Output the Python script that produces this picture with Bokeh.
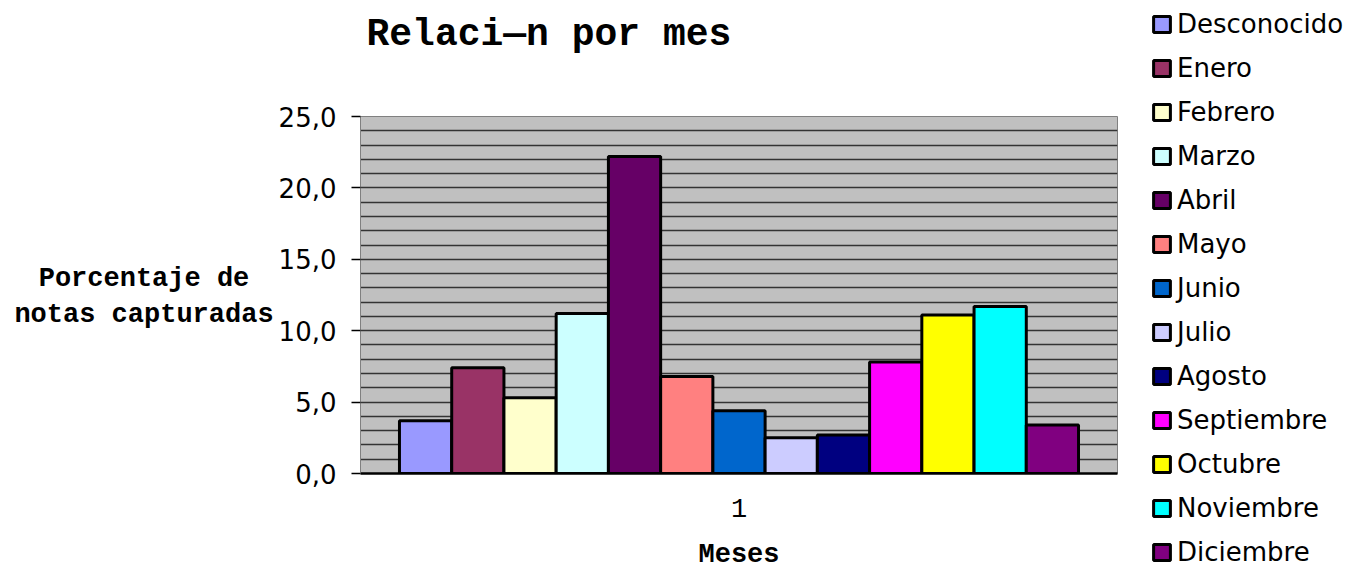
from bokeh.plotting import figure
from bokeh.layouts import row, column
from bokeh.models import (ColumnDataSource, Range1d, FixedTicker, SingleIntervalTicker,
                          Legend, LegendItem)
from bokeh.core.properties import value
from bokeh.embed import file_html
from bokeh.resources import INLINE

# ---- data ----
months = ["Desconocido", "Enero", "Febrero", "Marzo", "Abril", "Mayo", "Junio",
          "Julio", "Agosto", "Septiembre", "Octubre", "Noviembre", "Diciembre"]
values = [3.7, 7.4, 5.3, 11.2, 22.2, 6.8, 4.4, 2.5, 2.7, 7.8, 11.1, 11.7, 3.4]
colors = ["#9999FF", "#993366", "#FFFFCC", "#CCFFFF", "#660066", "#FF8080", "#0066CC",
          "#CCCCFF", "#000080", "#FF00FF", "#FFFF00", "#00FFFF", "#800080"]
x_tick_labels = ["1"]
y_tick_values = [0, 5, 10, 15, 20, 25]
y_tick_labels = ["0,0", "5,0", "10,0", "15,0", "20,0", "25,0"]
title_text = "Relaci\u2014n por mes"
y_title = "Porcentaje de\nnotas capturadas"
x_title = "Meses"

n = len(months)
pos = list(range(n))
src = ColumnDataSource(dict(x=pos, top=values, color=colors, month=months))

# ---- layout sizes ----
LEFT_W, MID_W, LEG_W = 275, 845, 232
TOP_H, BOT_H, H = 70, 40, 570
MAIN_H = H - TOP_H - BOT_H
FRAME_L, FRAME_R = 359, 1117   # page x of the plot area (frames in the column align)


def blank(w, h, x0=0, x1=None):
    f = figure(width=w, height=h, x_range=Range1d(x0, w if x1 is None else x1),
               y_range=Range1d(h, 0), output_backend="svg", toolbar_location=None,
               min_border=0, x_axis_type=None, y_axis_type=None)
    f.outline_line_color = None
    f.background_fill_color = "white"
    f.border_fill_color = "white"
    return f


def mono_text(f, x, y, txt, size, align):
    f.text(x=[x], y=[y], text=[txt], text_font=value("Liberation Mono"),
           text_font_style="bold", text_font_size=size, text_color="black",
           text_align=align, text_baseline="middle", text_line_height=1.2)


# ---- main chart ----
side = 0.746
p = figure(width=MID_W, height=MAIN_H, output_backend="svg", toolbar_location=None,
           x_range=Range1d(-0.5 - side, n - 0.5 + side), y_range=Range1d(0, 25),
           min_border_left=FRAME_L - LEFT_W, min_border_right=3,
           min_border_top=116 - TOP_H,
           min_border_bottom=MAIN_H - (116 - TOP_H) - 357)
p.background_fill_color = "#C0C0C0"
p.border_fill_color = "white"
p.outline_line_color = "#808080"
p.outline_line_width = 1

r = p.vbar(x="x", top="top", width=1.0, bottom=0, source=src,
           fill_color="color", line_color="black", line_width=3)

p.xgrid.visible = False
p.ygrid.ticker = SingleIntervalTicker(interval=1)
p.ygrid.grid_line_color = "#333333"
p.ygrid.grid_line_width = 1.5

ya = p.yaxis[0]
ya.ticker = FixedTicker(ticks=y_tick_values)
ya.major_label_overrides = {v: t for v, t in zip(y_tick_values, y_tick_labels)}
ya.major_label_text_font = "DejaVu Sans"
ya.major_label_text_font_size = "26px"
ya.major_label_text_color = "black"
ya.major_tick_out = 9
ya.major_tick_in = 0
ya.minor_tick_out = 0
ya.minor_tick_in = 0
ya.major_tick_line_color = "black"
ya.major_tick_line_width = 1.5
ya.axis_line_color = "#808080"
ya.major_label_standoff = 15

xa = p.xaxis[0]
center = (n - 1) / 2
xa.ticker = FixedTicker(ticks=[center])
xa.major_label_overrides = {center: x_tick_labels[0]}
xa.major_label_text_font = "Liberation Mono"
xa.major_label_text_font_size = "27px"
xa.major_label_text_color = "black"
xa.major_tick_out = 0
xa.major_tick_in = 0
xa.minor_tick_out = 0
xa.minor_tick_in = 0
xa.axis_line_color = "black"
xa.axis_line_width = 2.5
xa.major_label_standoff = 25

# ---- text panels ----
left_fig = blank(LEFT_W, H)
mono_text(left_fig, 143.5, 296, y_title, "27px", "center")

top_fig = blank(MID_W, TOP_H, FRAME_L, FRAME_R)
mono_text(top_fig, 365, 34, title_text, "38px", "left")

bot_fig = blank(MID_W, BOT_H, FRAME_L, FRAME_R)
mono_text(bot_fig, (FRAME_L + FRAME_R) / 2, 24, x_title, "27px", "center")

# ---- legend panel (legend swatches come from a hidden copy of the bars) ----
leg_fig = blank(LEG_W, H)
leg_fig.extra_x_ranges = {"off": Range1d(1000, 1001)}
leg_fig.extra_y_ranges = {"off": Range1d(1000, 1001)}
lr = leg_fig.vbar(x="x", top="top", width=1.0, bottom=0, source=src,
                  fill_color="color", line_color="black", line_width=3,
                  x_range_name="off", y_range_name="off")
lr.visible = False
items = [LegendItem(label=m, renderers=[lr], index=i) for i, m in enumerate(months)]
legend = Legend(items=items, location=(31, 3), padding=0, margin=0,
                border_line_alpha=0, background_fill_alpha=0,
                inactive_fill_alpha=0,
                glyph_width=21, glyph_height=20, label_standoff=5,
                label_text_font="DejaVu Sans", label_text_font_size="26px",
                label_text_color="black", spacing=14, label_height=30)
leg_fig.add_layout(legend, "center")

layout = row(left_fig, column(top_fig, p, bot_fig), leg_fig)

open("out.html", "w").write(file_html(layout, INLINE))
